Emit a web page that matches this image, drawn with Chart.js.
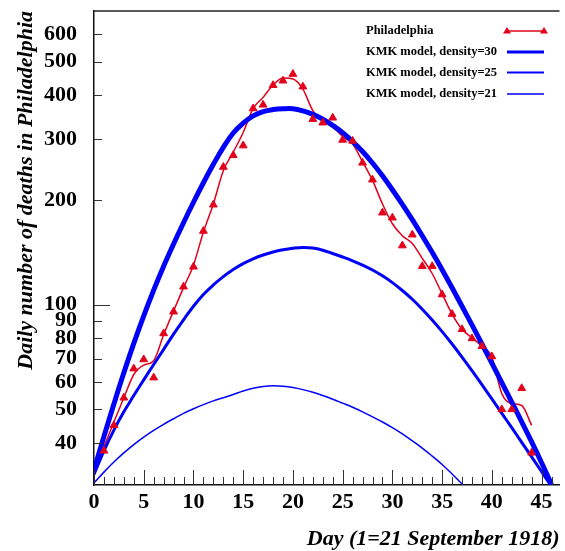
<!DOCTYPE html>
<html>
<head>
<meta charset="utf-8">
<script src="https://cdn.jsdelivr.net/npm/chart.js@4/dist/chart.umd.min.js"></script>
<style>
  body { margin: 0; background: #fff; }
  #wrap { width: 565px; height: 551px; }
</style>
</head>
<body>
<div id="wrap"><canvas id="chart"></canvas></div>
<script>
// observed daily deaths, Philadelphia (day 1 = 21 Sept 1918)
const obsDays = [1,2,3,4,5,6,7,8,9,10,11,12,13,14,15,16,17,18,19,20,21,22,
                 23,24,25,26,27,28,29,30,31,32,33,34,35,36,37,38,39,40,41,42,43,44];
const phillyDeaths = [38,45,54,65.5,69.6,61.7,82.7,95.5,112.7,128.6,163,194,249,269,287,367,376,428,441,461,424,342,
                      334,345,298,296,256,229,184,178,148,159,129,129,107,94,85,80,76,71,50,50,57.5,37.5];
// smoothed red curve through the data
const phillySmooth = [39,46,54,63,67,69,82,96,112,130,162,195,243,275,313,367,395,429,449,446,417,362,
                      339,325,305,290,258,228,195,171,158,150,136,123,107.5,94,85,80.4,76,70.7,55.5,52,51.3,45];

// KMK model curves
const modelDays = [0,1,2,3,4,5,6,7,8,9,10,11,12,13,14,15,16,17,18,19,20,21,22,23,
                   24,25,26,27,28,29,30,31,32,33,34,35,36,37,38,39,40,41,42,43,44,45,46];
const kmk30 = [33.5,41.8,51.8,63.7,77.4,92.9,110.2,129.1,149.6,172.2,
               197.2,224.4,253.5,283.8,311.9,333,349.5,359.4,364.3,366.3,
               366.3,361.3,353.0,341.9,328.0,312.6,295.0,276.0,255.7,234.9,
               214.2,194.4,175.7,158.0,141.5,126.1,111.9,99.0,87.5,77.1,
               67.9,59.7,52.5,46.0,40.3,35.1,30.4];
const kmk25 = [32.5,38,43.6,49.2,54.8,60.8,67.3,74.4,82.3,90.5,
               99,107,114,120.5,126.3,131.3,135.5,139,141.8,143.9,
               145.4,146.2,145.6,143.5,140.4,137.2,133.8,130,125.9,121.1,
               115.8,109.9,103.7,97.1,90.4,83.7,77.1,70.7,64.6,58.9,
               53.6,48.7,44.3,40.2,36.5,33.1,30];
const kmk21 = [30.7,33.0,35.3,37.5,39.6,41.6,43.5,45.3,47.0,48.7,
               50.2,51.6,52.9,54.0,55.2,56.5,57.5,58.2,58.5,58.3,
               57.8,57.0,56.0,54.8,53.5,52.1,50.7,49.2,47.6,46.0,
               44.3,42.5,40.6,38.7,36.7,34.7,32.6,30.5,28.4];

const xTickLabels = [0,5,10,15,20,25,30,35,40,45];
const yTickValues = [40,50,60,70,80,90,100,200,300,400,500,600];

const RED = '#e3001b';
const BLUE = '#0000fa';
const SERIF = "'Liberation Serif', 'Times New Roman', serif";

function pairs(xs, ys) {
    return ys.map((v, i) => ({x: xs[i], y: v}));
}

// inward tick marks, top frame line and the in-plot legend
const decor = {
    id: 'decor',
    afterDraw(chart) {
        const {ctx, chartArea: a, scales: {x, y}} = chart;
        ctx.save();
        ctx.strokeStyle = '#333';
        ctx.lineWidth = 1;
        for (let d = 0; d <= 46; d++) {
            const px = Math.round(x.getPixelForValue(d)) + 0.5;
            const len = d % 5 === 0 ? 15 : 8;
            ctx.beginPath();
            ctx.moveTo(px, a.bottom);
            ctx.lineTo(px, a.bottom - len);
            ctx.stroke();
        }
        yTickValues.forEach(v => {
            const py = Math.round(y.getPixelForValue(v)) + 0.5;
            const len = v === 100 ? 16 : 8;
            ctx.beginPath();
            ctx.moveTo(a.left, py);
            ctx.lineTo(a.left + len, py);
            ctx.stroke();
        });
        // top frame
        ctx.strokeStyle = '#222';
        ctx.lineWidth = 1.5;
        ctx.beginPath();
        ctx.moveTo(a.left, a.top);
        ctx.lineTo(a.right, a.top);
        ctx.stroke();

        // legend
        const rows = [
            {ds: 4, y: 31, w: 1.5},
            {ds: 0, y: 52, w: 3},
            {ds: 1, y: 72.5, w: 2},
            {ds: 2, y: 94, w: 1.3}
        ];
        ctx.font = 'bold 12.5px ' + SERIF;
        ctx.textBaseline = 'middle';
        ctx.textAlign = 'left';
        ctx.fillStyle = '#000';
        rows.forEach(r => {
            const ds = chart.data.datasets[r.ds];
            ctx.fillText(ds.label, 366, r.y);
            ctx.strokeStyle = ds.borderColor;
            ctx.lineWidth = r.w;
            ctx.beginPath();
            ctx.moveTo(507, r.y);
            ctx.lineTo(544, r.y);
            ctx.stroke();
            if (r.ds === 4) {
                ctx.fillStyle = RED;
                [507, 544].forEach(cx => {
                    ctx.beginPath();
                    ctx.moveTo(cx, r.y - 4);
                    ctx.lineTo(cx + 4, r.y + 2.5);
                    ctx.lineTo(cx - 4, r.y + 2.5);
                    ctx.closePath();
                    ctx.fill();
                });
                ctx.fillStyle = '#000';
            }
        });
        ctx.restore();
    }
};

new Chart(document.getElementById('chart'), {
    type: 'line',
    data: {
        datasets: [
            {label: 'KMK model, density=30', data: pairs(modelDays, kmk30), borderColor: BLUE,
             borderWidth: 5, pointRadius: 0, tension: 0.4, order: 1},
            {label: 'KMK model, density=25', data: pairs(modelDays, kmk25), borderColor: BLUE,
             borderWidth: 3, pointRadius: 0, tension: 0.4, order: 1},
            {label: 'KMK model, density=21', data: pairs(modelDays, kmk21), borderColor: BLUE,
             borderWidth: 1.5, pointRadius: 0, tension: 0.4, order: 1},
            {label: 'Philadelphia smooth', data: pairs(obsDays, phillySmooth), borderColor: RED,
             borderWidth: 1.5, pointRadius: 0, cubicInterpolationMode: 'monotone', order: 3},
            {label: 'Philadelphia', data: pairs(obsDays, phillyDeaths), borderColor: RED,
             backgroundColor: RED, showLine: false, pointStyle: 'triangle', pointRadius: 4.5,
             borderWidth: 1, order: 0}
        ]
    },
    options: {
        responsive: true,
        maintainAspectRatio: false,
        animation: false,
        layout: {padding: {top: 11, right: 0, left: 0, bottom: 0}},
        plugins: {legend: {display: false}, tooltip: {enabled: false}},
        scales: {
            x: {
                type: 'linear',
                min: 0,
                max: 46.8,
                bounds: 'data',
                grid: {display: false, drawTicks: false},
                border: {display: true, color: '#111', width: 1.5},
                afterBuildTicks: s => { s.ticks = xTickLabels.map(v => ({value: v})); },
                afterFit: s => { s.height = 66; s.paddingLeft = 0; s.paddingRight = 0; },
                ticks: {
                    autoSkip: false,
                    maxRotation: 0,
                    padding: 4,
                    color: '#000',
                    font: {family: SERIF, size: 22, weight: 'bold'},
                    callback: v => String(v)
                },
                title: {
                    display: true,
                    text: 'Day (1=21 September 1918)',
                    align: 'end',
                    color: '#000',
                    padding: {top: 0, bottom: 0},
                    font: {family: SERIF, size: 22, weight: 'bold', style: 'italic', lineHeight: 1.1}
                }
            },
            y: {
                type: 'logarithmic',
                min: 30.3,
                max: 700,
                bounds: 'data',
                grid: {display: false, drawTicks: false},
                border: {display: true, color: '#111', width: 1.5},
                afterBuildTicks: s => { s.ticks = yTickValues.map(v => ({value: v})); },
                afterFit: s => { s.width = 94; s.paddingTop = 0; s.paddingBottom = 0; },
                ticks: {
                    autoSkip: false,
                    padding: 17,
                    color: '#000',
                    font: {family: SERIF, size: 22, weight: 'bold'},
                    callback: v => String(v)
                },
                title: {
                    display: true,
                    text: 'Daily number of deaths in Philadelphia',
                    align: 'end',
                    color: '#000',
                    padding: {top: 13, bottom: 0},
                    font: {family: SERIF, size: 22, weight: 'bold', style: 'italic'}
                }
            }
        }
    },
    plugins: [decor]
});
</script>
</body>
</html>
